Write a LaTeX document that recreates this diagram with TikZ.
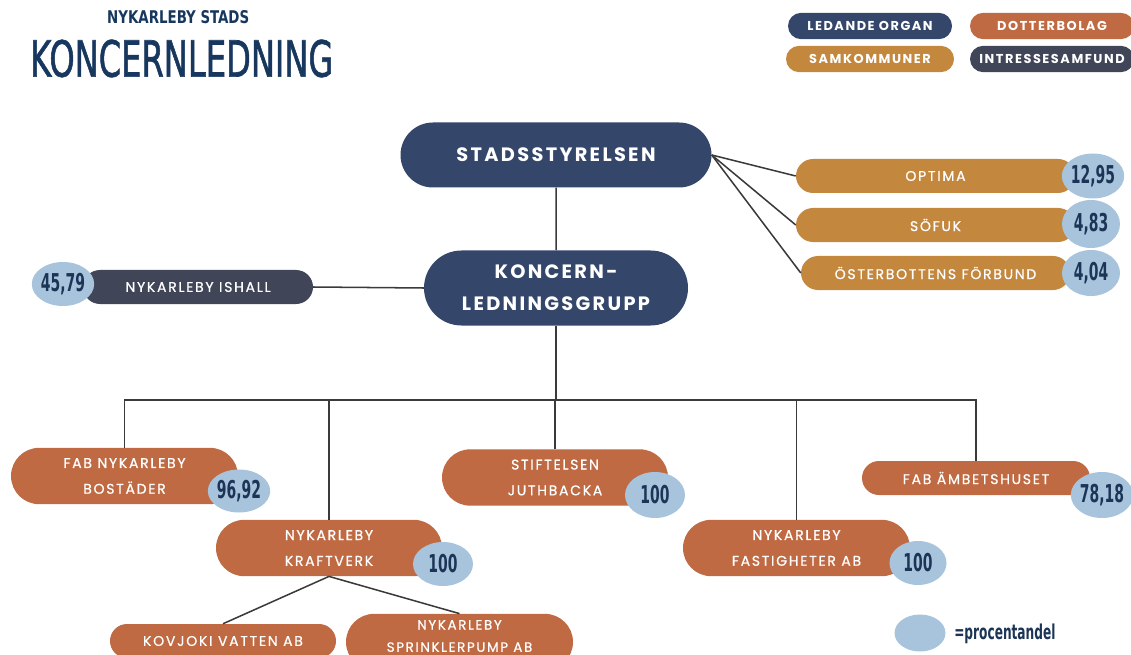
\documentclass[tikz,border=0pt]{standalone}
\usepackage{fontspec}
\setmainfont{Poppins}[LetterSpace=12, UprightFeatures={FakeBold=0.6}]
\newfontfamily\numfont{DejaVu Sans Condensed}
\newfontfamily\titlefont{DejaVu Sans Condensed}[FakeBold=1.4]
\usepackage{graphicx}
\usepackage{tikz}
\usetikzlibrary{positioning, shapes.geometric, shapes.misc}

\definecolor{navy}{HTML}{34476B}
\definecolor{rust}{HTML}{BF6A42}
\definecolor{ochre}{HTML}{C4873E}
\definecolor{slate}{HTML}{414558}
\definecolor{sky}{HTML}{A8C4DD}
\definecolor{ink}{HTML}{1C3557}
\definecolor{titleblue}{HTML}{17375E}
\definecolor{wirecol}{HTML}{3A3A3A}

\newcommand{\pct}[1]{\scalebox{0.63}[1]{\numfont\bfseries\fontsize{21}{21}\selectfont #1}}

\begin{document}
\begin{tikzpicture}
  [x=0.03cm, y=-0.03cm,
   pill/.style={rounded rectangle, text=white, align=center, inner sep=0pt,
     font=\fontsize{12}{22}\selectfont},
   single/.style={minimum height=1.02cm},
   double/.style={minimum height=1.69cm},
   ledande/.style={pill, fill=navy, font=\bfseries\fontsize{16.5}{27}\selectfont},
   dotter/.style={pill, fill=rust},
   samkom/.style={pill, fill=ochre},
   intresse/.style={pill, fill=slate},
   legend/.style={pill, minimum height=0.79cm, font=\bfseries\fontsize{11}{11}\selectfont},
   blob/.style={ellipse, fill=sky, text=ink, inner sep=0pt},
   wire/.style={draw=wirecol, line width=1.3pt}]
  \useasboundingbox (0,0) rectangle (1131,655);
  \clip (0,0) rectangle (1131,655);

  % title
  \node[anchor=west, inner sep=0pt, text=titleblue] (head) at (107,17.5)
    {\resizebox{4.26cm}{0.39cm}{\numfont\bfseries NYKARLEBY STADS}};
  \node[anchor=west, inner sep=0pt, text=titleblue] (title) at (30,58.5)
    {\resizebox{9.09cm}{1.11cm}{\titlefont KONCERNLEDNING}};

  % legend
  \node[legend, fill=navy, minimum width=4.92cm] (lgled) at (870,26) {LEDANDE ORGAN};
  \node[legend, fill=rust, minimum width=4.92cm] (lgdot) at (1052,26) {DOTTERBOLAG};
  \node[legend, fill=ochre, minimum width=5.04cm] (lgsam) at (870,59) {SAMKOMMUNER};
  \node[legend, fill=slate, minimum width=4.92cm] (lgint) at (1052,59) {INTRESSESAMFUND};

  % ledande organ
  \node[ledande, minimum width=9.33cm, minimum height=1.95cm] (stads) at (556,155) {STADSSTYRELSEN};
  \node[ledande, minimum width=7.92cm, minimum height=2.25cm] (koncern) at (556,288) {KONCERN-\\LEDNINGSGRUPP};

  % samkommuner
  \node[samkom, single, minimum width=8.37cm] (optima) at (935.5,176) {OPTIMA};
  \node[samkom, single, minimum width=8.37cm] (sofuk) at (935.5,225) {SÖFUK};
  \node[samkom, single, minimum width=8.07cm] (osterb) at (935.5,273) {ÖSTERBOTTENS FÖRBUND};

  % intressesamfund
  \node[intresse, single, minimum width=6.9cm] (ishall) at (198,287) {NYKARLEBY ISHALL};

  % dotterbolag
  \node[dotter, double, minimum width=6.81cm] (bostader) at (124.5,476) {FAB NYKARLEBY\\BOSTÄDER};
  \node[dotter, double, minimum width=6.78cm] (juthbacka) at (555,477.5) {STIFTELSEN\\JUTHBACKA};
  \node[dotter, single, minimum width=6.84cm] (ambets) at (976,478) {FAB ÄMBETSHUSET};
  \node[dotter, double, minimum width=6.78cm] (kraftverk) at (329,548) {NYKARLEBY\\KRAFTVERK};
  \node[dotter, double, minimum width=6.81cm] (fastigheter) at (796.5,548) {NYKARLEBY\\FASTIGHETER AB};
  \node[dotter, single, minimum width=6.78cm] (kovjoki) at (223,641) {KOVJOKI VATTEN AB};
  \node[dotter, double, minimum width=6.81cm] (sprinkler) at (459.5,642) {};
  \node[text=white, align=center, inner sep=0pt, font=\fontsize{11.5}{19}\selectfont]
    (sprinklertext) at (459.5,636) {NYKARLEBY\\SPRINKLERPUMP AB};

  % connectors
  \draw[wire] (stads) -- (koncern);
  \foreach \n in {optima, sofuk, osterb}
    \draw[wire] (stads.east) -- (\n.west);
  \draw[wire] (ishall.east) -- (koncern.west);
  \coordinate (bus) at (556,400);
  \draw[wire] (koncern.south) -- (bus);
  \foreach \n in {bostader, kraftverk, juthbacka, fastigheter, ambets}
    \draw[wire] (\n.north) |- (bus);
  \draw[wire] (kraftverk.south) -- (kovjoki.north);
  \draw[wire] (kraftverk.south) -- (sprinkler.north);

  % procentandel
  \node[blob, minimum width=1.8cm, minimum height=1.35cm] (poptima) at (1093,176) {\pct{12,95}};
  \node[blob, minimum width=1.74cm, minimum height=1.44cm] (psofuk) at (1091,224) {\pct{4,83}};
  \node[blob, minimum width=1.74cm, minimum height=1.38cm] (posterb) at (1091,273) {\pct{4,04}};
  \node[blob, minimum width=1.71cm, minimum height=1.32cm] (pishall) at (63,284) {\pct{45,79}};
  \node[blob, minimum width=1.74cm, minimum height=1.29cm] (pbostader) at (239,491) {\pct{96,92}};
  \node[blob, minimum width=1.8cm, minimum height=1.38cm] (pjuthbacka) at (655,495) {\pct{100}};
  \node[blob, minimum width=1.74cm, minimum height=1.38cm] (pambets) at (1102,495) {\pct{78,18}};
  \node[blob, minimum width=1.8cm, minimum height=1.32cm] (pkraftverk) at (443,564) {\pct{100}};
  \node[blob, minimum width=1.71cm, minimum height=1.32cm] (pfastigheter) at (918,563) {\pct{100}};

  \node[blob, minimum width=1.53cm, minimum height=1.11cm] (plegend) at (920,633) {};
  \node[anchor=west, inner sep=0pt, text=ink] (plegtext) at (954,634)
    {\scalebox{0.66}[1]{\numfont\bfseries\fontsize{17.5}{17.5}\selectfont =procentandel}};
\end{tikzpicture}
\end{document}
